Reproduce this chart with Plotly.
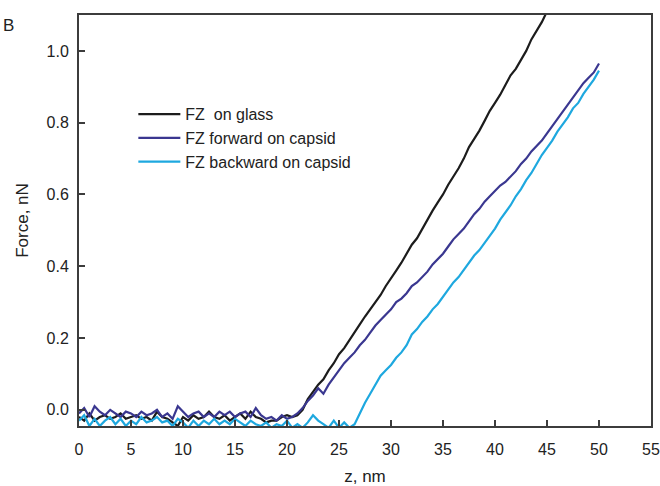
import plotly.graph_objects as go

# z positions (nm)
z_glass = [0, 0.5, 1, 1.5, 2, 2.5, 3, 3.5, 4, 4.5, 5, 5.5, 6, 6.5, 7, 7.5, 8, 8.5, 9, 9.5,
           10, 10.5, 11, 11.5, 12, 12.5, 13, 13.5, 14, 14.5, 15, 15.5, 16, 16.5, 17, 17.5, 18, 18.5, 19, 19.5,
           20, 20.5, 21, 21.5, 22, 22.5, 23, 23.5, 24, 24.5, 25, 25.5, 26, 26.5, 27, 27.5, 28, 28.5, 29, 29.5,
           30, 30.5, 31, 31.5, 32, 32.5, 33, 33.5, 34, 34.5, 35, 35.5, 36, 36.5, 37, 37.5, 38, 38.5, 39, 39.5,
           40, 40.5, 41, 41.5, 42, 42.5, 43, 43.5, 44, 44.5, 45]
z_capsid = z_glass + [45.5, 46, 46.5, 47, 47.5, 48, 48.5, 49, 49.5, 50]

f_glass = [-0.02, -0.03, -0.01, -0.03, -0.02, -0.015, -0.025, -0.02, -0.01, -0.025,
           -0.02, -0.015, -0.025, -0.02, -0.03, -0.005, -0.02, -0.025, -0.035, -0.045,
           -0.02, -0.03, -0.015, -0.025, -0.02, -0.005, -0.02, -0.025, -0.015, -0.03,
           -0.02, -0.01, -0.025, -0.005, -0.02, -0.025, -0.035, -0.03, -0.03, -0.02,
           -0.015, -0.02, -0.015, 0.0, 0.03, 0.05, 0.07, 0.085, 0.11, 0.13,
           0.155, 0.172, 0.195, 0.215, 0.238, 0.26, 0.28, 0.298, 0.32, 0.345,
           0.365, 0.388, 0.41, 0.437, 0.46, 0.478, 0.505, 0.532, 0.555, 0.578,
           0.60, 0.627, 0.65, 0.673, 0.70, 0.732, 0.755, 0.778, 0.805, 0.833,
           0.855, 0.878, 0.905, 0.932, 0.95, 0.975, 1.0, 1.032, 1.055, 1.08, 1.11]

f_forward = [-0.01, 0.005, -0.02, 0.01, -0.005, -0.015, 0.0, -0.01, -0.02, -0.005,
             -0.01, -0.02, -0.005, -0.015, -0.01, 0.0, -0.02, -0.01, -0.025, 0.01,
             -0.005, -0.02, -0.01, -0.005, -0.02, -0.01, -0.02, -0.005, -0.015, -0.005,
             -0.02, -0.01, -0.005, -0.02, 0.005, -0.015, -0.025, -0.02, -0.03, -0.015,
             -0.025, -0.02, -0.01, 0.005, 0.025, 0.04, 0.06, 0.045, 0.07, 0.09,
             0.11, 0.13, 0.145, 0.16, 0.18, 0.195, 0.215, 0.235, 0.25, 0.265,
             0.28, 0.30, 0.31, 0.325, 0.345, 0.355, 0.37, 0.385, 0.405, 0.42,
             0.435, 0.455, 0.475, 0.49, 0.505, 0.525, 0.545, 0.56, 0.58, 0.595,
             0.61, 0.625, 0.635, 0.65, 0.665, 0.685, 0.70, 0.72, 0.735, 0.75,
             0.77, 0.79, 0.81, 0.83, 0.85, 0.87, 0.89, 0.91, 0.925, 0.94, 0.965]

f_backward = [-0.03, -0.015, -0.045, -0.025, -0.045, -0.03, -0.02, -0.04, -0.025, -0.045,
              -0.03, -0.04, -0.02, -0.035, -0.03, -0.02, -0.035, -0.03, -0.045, -0.025,
              -0.035, -0.05, -0.03, -0.045, -0.03, -0.04, -0.025, -0.04, -0.03, -0.04,
              -0.025, -0.035, -0.045, -0.03, -0.04, -0.045, -0.035, -0.05, -0.04, -0.045,
              -0.03, -0.05, -0.04, -0.05, -0.035, -0.015, -0.03, -0.04, -0.05, -0.03,
              -0.05, -0.035, -0.05, -0.04, -0.01, 0.02, 0.045, 0.07, 0.095, 0.11,
              0.125, 0.145, 0.16, 0.18, 0.21, 0.225, 0.245, 0.26, 0.28, 0.295,
              0.315, 0.335, 0.355, 0.37, 0.39, 0.41, 0.43, 0.445, 0.465, 0.485,
              0.505, 0.53, 0.55, 0.57, 0.595, 0.615, 0.64, 0.66, 0.685, 0.71,
              0.73, 0.75, 0.775, 0.795, 0.815, 0.84, 0.855, 0.88, 0.90, 0.92, 0.945]

names = ["FZ  on glass", "FZ forward on capsid", "FZ backward on capsid"]
colors = ["#1c1c1c", "#3a3790", "#1ea8df"]

x_ticks = [0, 5, 10, 15, 20, 25, 30, 35, 40, 45, 50, 55]
y_ticks = [0.0, 0.2, 0.4, 0.6, 0.8, 1.0]

FONT = "Liberation Sans, Arial, sans-serif"
AX = "#3c3c3c"

fig = go.Figure()
for zs, fs, nm, col in [(z_glass, f_glass, names[0], colors[0]),
                        (z_capsid, f_forward, names[1], colors[1]),
                        (z_capsid, f_backward, names[2], colors[2])]:
    fig.add_trace(go.Scatter(x=zs, y=fs, mode="lines", name=nm, legendgroup=nm,
                             line=dict(color=col, width=2.2)))

fig.update_layout(
    width=660, height=486,
    margin=dict(l=79, r=9, t=15, b=60),
    paper_bgcolor="white", plot_bgcolor="white",
    font=dict(family=FONT, size=16, color="#222"),
    showlegend=True,
    legend=dict(x=0.095, y=0.80, xanchor="left", yanchor="top",
                bgcolor="rgba(0,0,0,0)", font=dict(size=16, color="#222"),
                tracegroupgap=0, itemwidth=42),
    xaxis=dict(range=[0, 55], tickvals=x_ticks, ticks="inside", ticklen=6, tickwidth=1.5,
               tickcolor=AX, showline=True, linecolor=AX, linewidth=2, mirror=True,
               showgrid=False, zeroline=False, ticklabelstandoff=8, automargin=False,
               ticklabeloverflow="allow", tickfont=dict(size=16),
               title=dict(text="z, nm", font=dict(size=17), standoff=14)),
    yaxis=dict(range=[-0.045, 1.10], tickvals=y_ticks, tickformat=".1f", ticks="inside",
               ticklen=6, tickwidth=1.5, tickcolor=AX, showline=True, linecolor=AX,
               linewidth=2, mirror=True, showgrid=False, zeroline=False, automargin=False,
               ticklabelstandoff=5, tickfont=dict(size=16),
               title=dict(text="Force, nN", font=dict(size=17), standoff=14)),
)

fig.add_annotation(text="B", xref="paper", yref="paper", x=-0.124, y=0.975,
                   xanchor="center", yanchor="middle", showarrow=False,
                   font=dict(size=17, family=FONT, color="#222"))

fig.write_html("out.html")
